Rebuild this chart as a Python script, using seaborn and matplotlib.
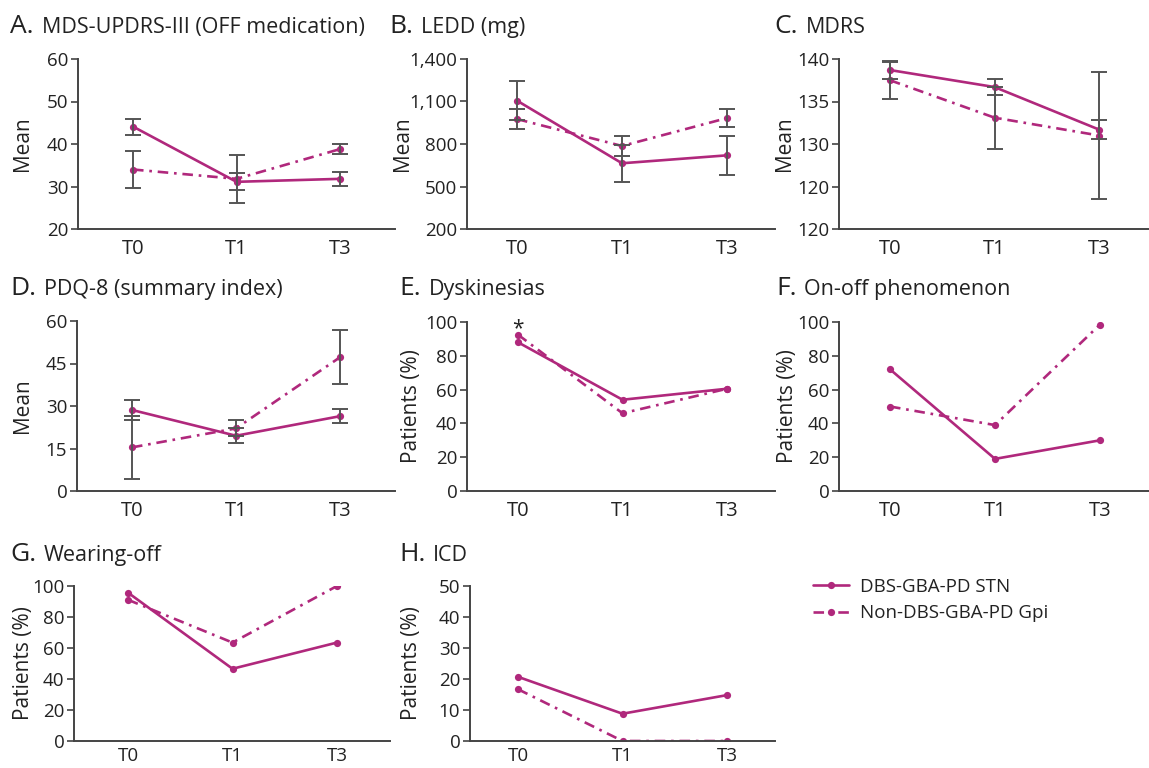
import pandas as pd
import matplotlib
matplotlib.use("Agg")
import matplotlib.pyplot as plt
import seaborn as sns

sns.set_style("white")
plt.rcParams['font.family'] = ['Open Sans', 'DejaVu Sans']

timepoints = ["T0", "T1", "T3"]
groups = ["DBS-GBA-PD STN", "Non-DBS-GBA-PD Gpi"]

# A. MDS-UPDRS-III (OFF medication)
updrs_stn = [44.1, 31.1, 31.8]
updrs_stn_err = [1.9, 2.0, 1.6]
updrs_gpi = [34.0, 31.8, 38.8]
updrs_gpi_err = [4.3, 5.7, 1.2]

# B. LEDD (mg)
ledd_stn = [1106, 664, 720]
ledd_stn_err = [140, 132, 138]
ledd_gpi = [976, 786, 983]
ledd_gpi_err = [68, 70, 65]

# C. MDRS (axis labels as printed in the original)
mdrs_stn = [138.7, 136.7, 131.7]
mdrs_stn_err = [1.1, 0.9, 1.1]
mdrs_gpi = [137.5, 133.1, 131.0]
mdrs_gpi_err = [2.2, 3.65, 7.5]
mdrs_ticks = [140, 135, 130, 125, 120]
mdrs_ticklabels = ["140", "135", "130", "120", "120"]

# D. PDQ-8 (summary index)
pdq_stn = [28.6, 19.5, 26.4]
pdq_stn_err = [3.6, 2.6, 2.4]
pdq_gpi = [15.4, 22.1, 47.2]
pdq_gpi_err = [11.0, 2.8, 9.5]

# E-H. percentages of patients
dysk_stn = [88, 54, 60.5]
dysk_gpi = [92.5, 46, 60.5]
onoff_stn = [72, 19, 30]
onoff_gpi = [50, 39, 98.5]
wear_stn = [95.7, 46.6, 63.5]
wear_gpi = [91.1, 63.5, 100]
icd_stn = [20.7, 8.8, 14.8]
icd_gpi = [16.7, 0, 0]

magenta = "#b0287c"
grey = "#555555"
W, H = 1149, 768

fig = plt.figure(figsize=(W / 100, H / 100), dpi=100)


def px_axes(left, right, top, bottom):
    return fig.add_axes([left / W, 1 - bottom / H, (right - left) / W, (bottom - top) / H])


def panel(box, stn, gpi, ylim, yticks, letter, title, title_xy, ylabel, ylabel_x,
          t0_px, step, stn_err=None, gpi_err=None, yticklabels=None, legend=False,
          xsize=14.5, xpad=4):
    left, right, top, bottom = box
    ax = px_axes(left, right, top, bottom)
    df = pd.DataFrame({
        "time": list(range(3)) * 2,
        "value": stn + gpi,
        "group": [groups[0]] * 3 + [groups[1]] * 3,
    })
    if stn_err is not None:
        ax.errorbar(range(3), stn, yerr=stn_err, fmt="none", ecolor=grey,
                    elinewidth=1.4, capsize=5.5, capthick=1.4, zorder=3)
        ax.errorbar(range(3), gpi, yerr=gpi_err, fmt="none", ecolor=grey,
                    elinewidth=1.4, capsize=5.5, capthick=1.4, zorder=3)
    sns.lineplot(data=df, x="time", y="value", hue="group", style="group",
                 palette=[magenta, magenta],
                 dashes={groups[0]: "", groups[1]: (4, 2.2, 1, 2.2)},
                 markers={groups[0]: "o", groups[1]: "o"},
                 markersize=5.2, markeredgewidth=0, linewidth=1.9,
                 legend=legend, ax=ax, zorder=2)
    ax.set_xlim((left - t0_px) / step, (right - t0_px) / step)
    ax.set_ylim(ylim)
    ax.set_yticks(yticks)
    if yticklabels is not None:
        ax.set_yticklabels(yticklabels)
    ax.set_xticks(range(3))
    ax.set_xticklabels(timepoints)
    ax.set_xlabel("")
    ax.set_ylabel("")
    for s in ["top", "right"]:
        ax.spines[s].set_visible(False)
    for s in ["left", "bottom"]:
        ax.spines[s].set_color("#444444")
        ax.spines[s].set_linewidth(1.4)
    ax.tick_params(axis="y", left=True, length=5, width=1.2, color="#444444",
                   labelsize=13.5, labelcolor="#222222", pad=2)
    ax.tick_params(axis="x", bottom=False, labelsize=xsize, labelcolor="#222222", pad=xpad)
    fig.text(ylabel_x / W, 1 - (top + bottom) / 2 / H, ylabel, rotation=90,
             ha="center", va="center", fontsize=15, color="#222222")
    tx, ty = title_xy
    t = fig.text(tx / W, 1 - ty / H, letter, fontsize=19, color="#222222", va="baseline")
    fig.canvas.draw()
    bb = t.get_window_extent()
    fig.text((bb.x1 + 8) / W, 1 - ty / H, title, fontsize=15.5, color="#222222", va="baseline")
    return ax


axA = panel((78, 395, 59, 229), updrs_stn, updrs_gpi, (20, 60), [20, 30, 40, 50, 60],
            "A.", "MDS-UPDRS-III (OFF medication)", (10, 33), "Mean", 22, 133, 103.5,
            updrs_stn_err, updrs_gpi_err)
axB = panel((467, 775, 59, 229), ledd_stn, ledd_gpi, (200, 1400), [200, 500, 800, 1100, 1400],
            "B.", "LEDD (mg)", (389, 33), "Mean", 402, 517, 105,
            ledd_stn_err, ledd_gpi_err, yticklabels=["200", "500", "800", "1,100", "1,400"])
axC = panel((839, 1149, 59, 229), mdrs_stn, mdrs_gpi, (120, 140), mdrs_ticks,
            "C.", "MDRS", (774, 33), "Mean", 785, 890, 104.5,
            mdrs_stn_err, mdrs_gpi_err, yticklabels=mdrs_ticklabels)
axD = panel((77, 395, 321, 491), pdq_stn, pdq_gpi, (0, 60), [0, 15, 30, 45, 60],
            "D.", "PDQ-8 (summary index)", (10, 295), "Mean", 23, 132, 104,
            pdq_stn_err, pdq_gpi_err)
axE = panel((467, 775, 322, 491), dysk_stn, dysk_gpi, (0, 100), [0, 20, 40, 60, 80, 100],
            "E.", "Dyskinesias", (399, 295), "Patients (%)", 412, 518, 104.5)
axE.text(0, 96, "*", ha="center", va="center", fontsize=15, color="#222222")
axF = panel((839, 1149, 322, 491), onoff_stn, onoff_gpi, (0, 100), [0, 20, 40, 60, 80, 100],
            "F.", "On-off phenomenon", (776, 295), "Patients (%)", 788, 890, 105)
axG = panel((74, 390, 586, 741), wear_stn, wear_gpi, (0, 100), [0, 20, 40, 60, 80, 100],
            "G.", "Wearing-off", (10, 561), "Patients (%)", 23, 128, 104.5,
            xsize=13.5, xpad=0.5)
axH = panel((470, 775, 586, 741), icd_stn, icd_gpi, (0, 50), [0, 10, 20, 30, 40, 50],
            "H.", "ICD", (399, 561), "Patients (%)", 412, 518, 104.5, legend=True,
            xsize=13.5, xpad=0.5)

handles, labels = axH.get_legend_handles_labels()
axH.get_legend().remove()
fig.legend(handles, labels, loc="center left", bbox_to_anchor=(796 / W, 1 - 600 / H),
           frameon=False, fontsize=13.5, handlelength=1.9, labelspacing=0.45,
           handletextpad=0.6, labelcolor="#222222")

fig.savefig("out.png", dpi=100)
